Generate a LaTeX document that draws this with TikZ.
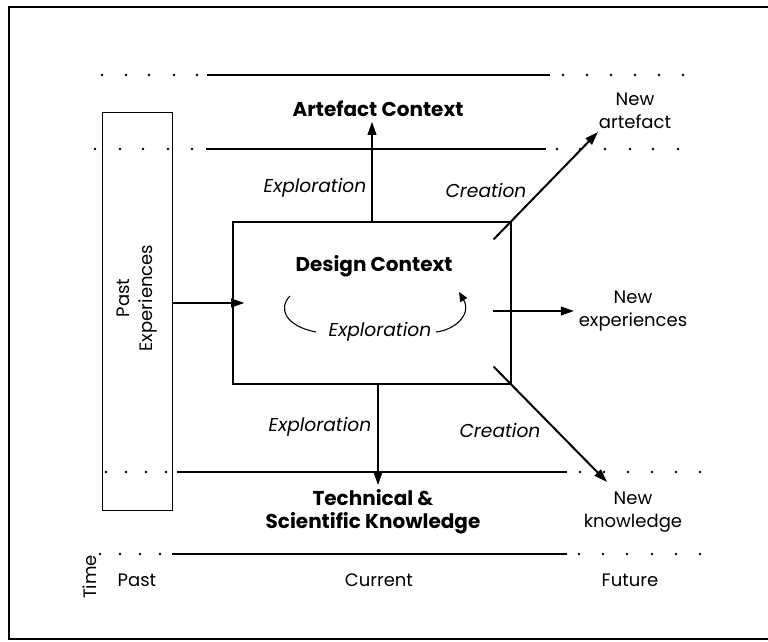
\documentclass[tikz,border=0pt]{standalone}
\usepackage{fontspec}
\setmainfont{Poppins}
\usetikzlibrary{arrows.meta,calc,positioning}

\tikzset{
  arr/.style={-{Triangle[length=10pt,width=6.5pt]}, line width=1.5pt},
  rule/.style={line width=0.9pt},
  head/.style={font=\bfseries\fontsize{15}{17}\selectfont, align=center},
  lab/.style={font=\fontsize{13.5}{17}\selectfont, align=center},
  act/.style={font=\itshape\fontsize{14}{16}\selectfont},
  box/.style={draw, line width=0.9pt},
}

\begin{document}
\begin{tikzpicture}[x=0.75pt,y=-0.75pt]
  \useasboundingbox (0,0) rectangle (768,642);
  \draw[line width=1.5pt] (768,7) -- (9,7) -- (9,639) -- (768,639);

  % time bands
  \draw[rule] (207,75) -- (550,75);
  \draw[rule] (206,149) -- (546,149);
  \draw[rule] (177,472) -- (567,472);
  \draw[rule] (172,554) -- (567,554);
  \foreach \x in {102,126,149,174,197,563,587,611,635,659,683}
    \fill (\x,75) circle (1.1pt);
  \foreach \x in {95,120,143,168,192,557,580,605,630,653,678}
    \fill (\x,149) circle (1.1pt);
  \foreach \x in {106,126,146,166,580,604,628,652,676,700}
    \fill (\x,472) circle (1.1pt);
  \foreach \x in {100,120,140,160,579,603,627,652,676,700}
    \fill (\x,554) circle (1.1pt);

  % boxes
  \node[box, minimum width=53pt, minimum height=299pt] (past) at (137.5,311.5) {};
  \node[lab, rotate=90] (pastlab) at (137,298) {Past\\Experiences};
  \node[box, minimum width=208.5pt, minimum height=121.5pt] (design) at (372,303) {};
  \node[head] (dctx) at (374,266) {Design Context};

  % contexts
  \node[head] (artefact) at (378,109) {Artefact Context};
  \node[head] (tech) at (373,512) {Technical \&\\Scientific Knowledge};

  % outcomes
  \node[lab] (newart) at (635,111) {New\\artefact};
  \node[lab] (newexp) at (633,311) {New\\experiences};
  \node[lab] (newknow) at (633,512) {New\\knowledge};
  \coordinate (artip) at (598,132);
  \coordinate (kntip) at (607,482);

  % time axis
  \node[lab, rotate=90] (time) at (90,577) {Time};
  \node[lab] (tpast) at (137,580) {Past};
  \node[lab] (tcur) at (379,580) {Current};
  \node[lab] (tfut) at (630,580) {Future};

  % activities
  \node[act] (expup) at (315,188) {Exploration};
  \node[act] (creup) at (486,190) {Creation};
  \node[act] (expdn) at (320,427) {Exploration};
  \node[act] (credn) at (500,430) {Creation};
  \node[act] (loopx) at (380,332) {Exploration};

  % flows
  \draw[arr, shorten >=-9pt] (past.east |- design.west) -- (design.west);
  \draw[arr] (design.north) -- (design.north |- artefact.south);
  \draw[arr] ([xshift=4.5pt]design.south) -- ([xshift=4.5pt]design.south |- tech.north);
  \draw[arr] ($(design.north east)+(-18,18)$) -- (artip);
  \draw[arr] ($(design.south east)+(-18,-18)$) -- (kntip);
  \draw[arr] ([xshift=-14pt]design.east |- newexp.west) -- (newexp.west);
  \draw[line width=0.8pt] ([xshift=-6pt]loopx.west) .. controls (285,326) and (278,308) .. (290,296);
  \draw[line width=0.8pt, -{Triangle[length=7pt,width=6pt]}] (loopx.east) .. controls (455,330) and (472,314) .. (459,292);
\end{tikzpicture}
\end{document}
